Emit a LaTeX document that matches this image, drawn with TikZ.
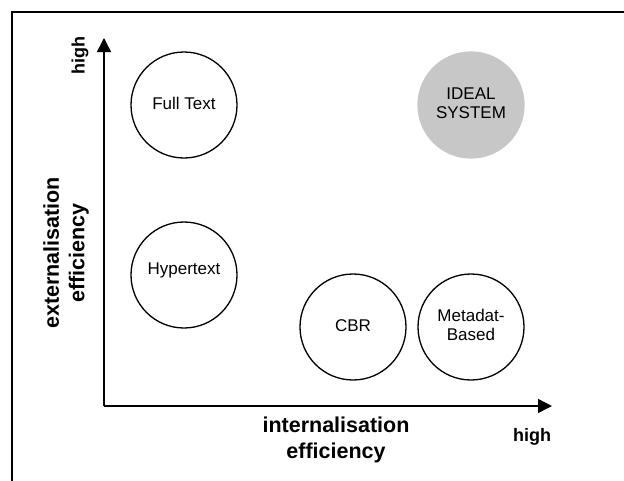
\documentclass[tikz,border=0pt]{standalone}
\usepackage{fontspec}
\setmainfont{Liberation Sans}
\usetikzlibrary{arrows.meta}
\begin{document}
\begin{tikzpicture}[x=1pt,y=-1pt,
  sys/.style={circle,draw=black,line width=1.3pt,minimum size=106pt,inner sep=0pt,align=center,font=\fontsize{17}{19.5}\selectfont},
  axis/.style={line width=1.4pt,-{Triangle[length=14pt,width=14pt]}},
  axlabel/.style={font=\bfseries\fontsize{21.5}{25.5}\selectfont,align=center},
  hilabel/.style={font=\bfseries\fontsize{18}{20}\selectfont}]
\useasboundingbox (0,0) rectangle (624,480);
\draw[line width=2.4pt] (12,481) -- (12,12) -- (625,12);
\coordinate (origin) at (104,406);
\coordinate (ytip) at (104,38);
\coordinate (xtip) at (552,406);
\draw[axis] (origin) -- (ytip);
\draw[axis] (origin) -- (xtip);
\node[sys] (full) at (184,105) {\raisebox{3pt}{Full Text}};
\node[sys,fill=black!22,draw=black!22] (ideal) at (471,105) {\raisebox{2pt}{\begin{tabular}{@{}c@{}}IDEAL\\SYSTEM\end{tabular}}};
\node[sys] (hyper) at (184,275) {\raisebox{12pt}{Hypertext}};
\node[sys] (cbr) at (353,327) {\raisebox{3pt}{CBR}};
\node[sys] (meta) at (471,327) {\raisebox{4pt}{\begin{tabular}{@{}c@{}}Metadat-\\Based\end{tabular}}};
\node[hilabel,rotate=90] (yhigh) at (80,56) {high};
\node[axlabel,rotate=90] (ylab) at (66,253) {externalisation\\efficiency};
\node[axlabel] (xlab) at (336,440) {internalisation\\efficiency};
\node[hilabel] (xhigh) at (532,437) {high};
\end{tikzpicture}
\end{document}
